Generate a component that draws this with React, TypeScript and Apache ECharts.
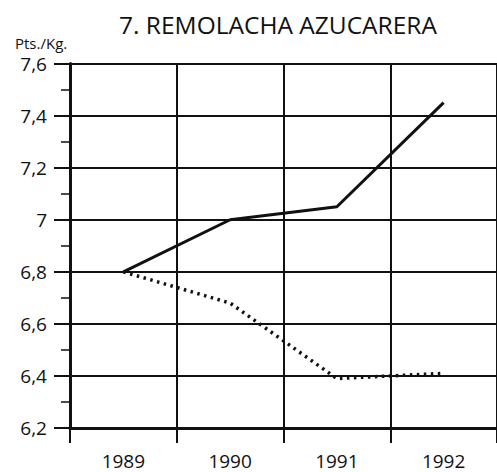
import React, { useEffect, useRef } from "react";
import * as echarts from "echarts";

const years = ["1989", "1990", "1991", "1992"];
const solidSeries = [6.8, 7.0, 7.05, 7.45];
const dottedSeries = [6.8, 6.68, 6.39, 6.41];
const titleText = "7. REMOLACHA AZUCARERA";
const unitText = "Pts./Kg.";
const FONT = "'Open Sans', 'Noto Sans', sans-serif";
const INK = "#111";

export default function App() {
  const ref = useRef<HTMLDivElement>(null);
  useEffect(() => {
    if (!ref.current) return;
    const chart = echarts.init(ref.current, undefined, { renderer: "svg" });
    chart.setOption({
      animation: false,
      backgroundColor: "#fff",
      textStyle: { fontFamily: FONT },
      grid: { left: 70, right: -9, top: 63.6, bottom: 44, containLabel: false },
      graphic: [
        {
          type: "text",
          x: 278,
          y: 24,
          style: {
            text: titleText,
            font: `24.5px ${FONT}`,
            fill: INK,
            textAlign: "center",
            textVerticalAlign: "middle",
          },
        },
        {
          type: "text",
          x: 15,
          y: 43,
          style: {
            text: unitText,
            font: `15px ${FONT}`,
            fill: INK,
            textAlign: "left",
            textVerticalAlign: "middle",
          },
        },
      ],
      xAxis: {
        type: "category",
        data: years,
        boundaryGap: true,
        axisLine: { show: true, lineStyle: { color: INK, width: 3 } },
        axisTick: { show: true, length: 15, interval: 0, lineStyle: { color: INK, width: 2 } },
        axisLabel: { margin: 23, fontSize: 19, color: INK, fontFamily: FONT, interval: 0 },
        splitLine: { show: true, interval: 0, lineStyle: { color: INK, width: 2 } },
      },
      yAxis: {
        type: "value",
        min: 6.2,
        max: 7.6,
        interval: 0.2,
        axisLine: { show: true, lineStyle: { color: INK, width: 3 } },
        axisTick: { show: true, length: 16, lineStyle: { color: INK, width: 2 } },
        minorTick: { show: true, splitNumber: 2, length: 9, lineStyle: { color: INK, width: 1.5 } },
        axisLabel: {
          margin: 23,
          fontSize: 19,
          color: INK,
          fontFamily: FONT,
          formatter: (v: number) => String(+v.toFixed(1)).replace(".", ","),
        },
        splitLine: { show: true, lineStyle: { color: INK, width: 2 } },
      },
      series: [
        {
          type: "line",
          data: solidSeries,
          symbol: "none",
          lineStyle: { color: INK, width: 3 },
        },
        {
          type: "line",
          data: dottedSeries,
          symbol: "none",
          lineStyle: { color: INK, width: 3.5, type: [2.5, 4.5], cap: "butt" },
        },
      ],
    });
    return () => chart.dispose();
  }, []);
  return (
    <div
      ref={ref}
      style={{ position: "absolute", left: 0, top: 0, width: 497, height: 472 }}
    />
  );
}
